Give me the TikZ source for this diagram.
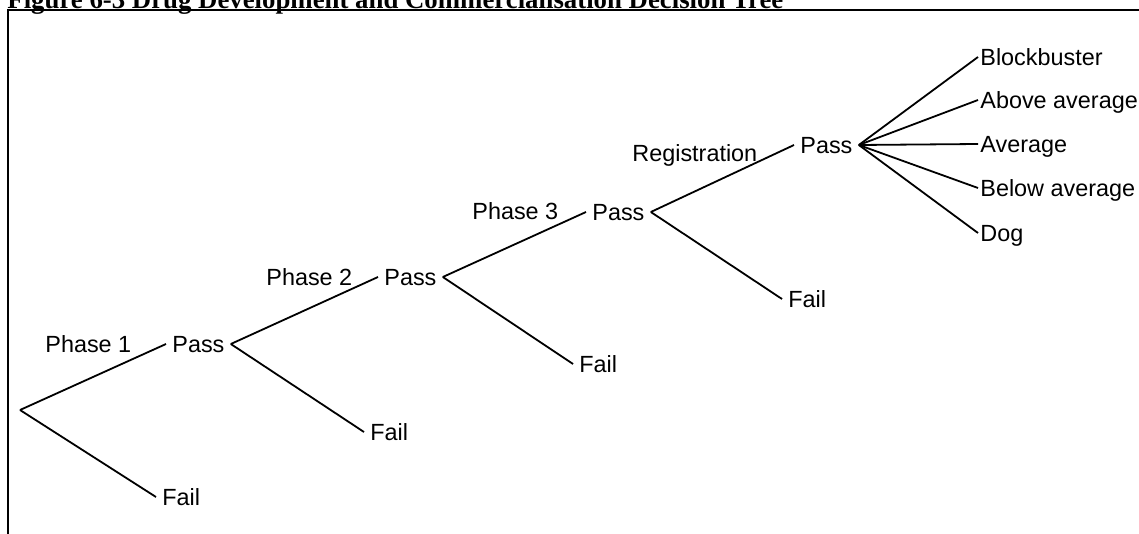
\documentclass[tikz,border=0pt]{standalone}
\usepackage{fontspec}
\setmainfont{Liberation Sans}
\newfontfamily\titlefont{Liberation Serif}
\begin{document}
\begin{tikzpicture}[x=0.5pt,y=-0.5pt,
  branch/.style={line width=0.9pt},
  frame/.style={line width=1pt},
  lbl/.style={font=\fontsize{11.7}{14}\selectfont, anchor=west,
    inner xsep=3pt, inner ysep=0pt, text height=8.4pt, text depth=0pt},
  outcome/.style={lbl, inner xsep=1pt},
  stage/.style={lbl, inner xsep=0pt}]
\useasboundingbox (0,0) rectangle (1139,534);

% caption and open frame
\node[anchor=base west, inner sep=0pt,
  font={\titlefont\bfseries\fontsize{13.4}{16}\selectfont}] (title) at (7,9)
  {Figure 6-3 Drug Development and Commercialisation Decision Tree};
\draw[frame] (1139,10.5) -- (8,10.5) -- (8,534);

% stage labels
\node[stage] (ph1) at (45,344) {Phase 1};
\node[stage] (ph2) at (266,277) {Phase 2};
\node[stage] (ph3) at (472,211) {Phase 3};
\node[stage] (reg) at (632,153) {Registration};

% decision nodes
\coordinate (root) at (20,410);
\node[lbl] (pass1) at (166,344) {Pass};
\node[lbl] (fail1) at (156,497) {Fail};
\node[lbl] (pass2) at (378,277) {Pass};
\node[lbl] (fail2) at (364,432) {Fail};
\node[lbl] (pass3) at (586,212) {Pass};
\node[lbl] (fail3) at (573,364) {Fail};
\node[lbl] (pass4) at (794,145) {Pass};
\node[lbl] (fail4) at (782,299) {Fail};

% market outcomes
\node[outcome] (o1) at (978,57)  {Blockbuster};
\node[outcome] (o2) at (978,100) {Above average};
\node[outcome] (o3) at (978,144) {Average};
\node[outcome] (o4) at (978,188) {Below average};
\node[outcome] (o5) at (978,233) {Dog};

% branches
\draw[branch] (root) -- (pass1.west);
\draw[branch] (root) -- (fail1.west);
\draw[branch] (pass1.east) -- (pass2.west);
\draw[branch] (pass1.east) -- (fail2.west);
\draw[branch] (pass2.east) -- (pass3.west);
\draw[branch] (pass2.east) -- (fail3.west);
\draw[branch] (pass3.east) -- (pass4.west);
\draw[branch] (pass3.east) -- (fail4.west);
\foreach \o in {o1,o2,o3,o4,o5}
  \draw[branch] (pass4.east) -- (\o.west);
\end{tikzpicture}
\end{document}
